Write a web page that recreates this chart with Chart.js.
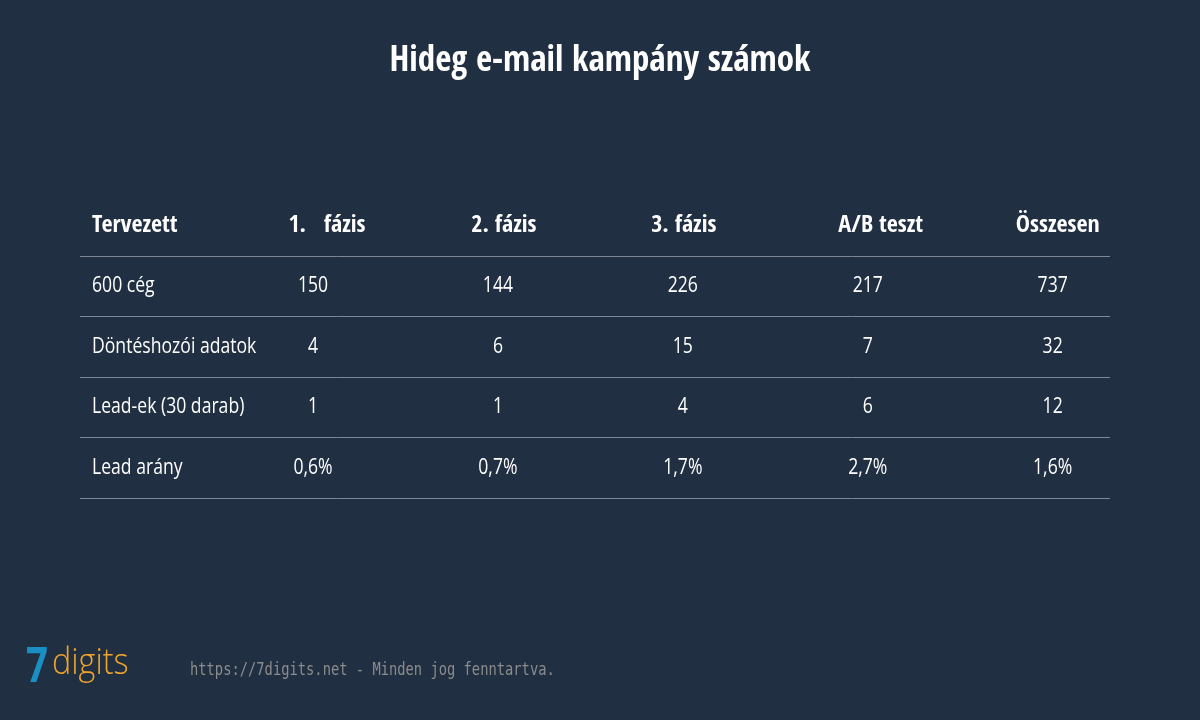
<!DOCTYPE html>
<html><head><meta charset="utf-8">
<script src="https://cdn.jsdelivr.net/npm/chart.js@4"></script>
<style>
html,body{margin:0;padding:0;background:#212f42;width:1200px;height:720px;overflow:hidden}
#wrap{position:absolute;left:0;top:0;width:1200px;height:720px}
</style></head><body>
<div id="wrap"><canvas id="c" width="1200" height="720"></canvas></div>
<script>
const title = "Hideg e-mail kampány számok";
const headers = ["Tervezett","1.   fázis","2. fázis","3. fázis","A/B teszt","Összesen"];
const rowLabels = ["600 cég","Döntéshozói adatok","Lead-ek (30 darab)","Lead arány"];
const phase1 = ["150","4","1","0,6%"];
const phase2 = ["144","6","1","0,7%"];
const phase3 = ["226","15","4","1,7%"];
const abTest = ["217","7","6","2,7%"];
const total  = ["737","32","12","1,6%"];
const footer = "https://7digits.net - Minden jog fenntartva.";

const cols = [phase1, phase2, phase3, abTest, total];
const FONT = '"Liberation Sans Narrow","Open Sans Condensed","DejaVu Sans Condensed",sans-serif';
const pts = [];
headers.forEach((h,i)=>pts.push({x:i,y:0,t:h,head:true}));
rowLabels.forEach((r,j)=>{
  pts.push({x:0,y:j+1,t:r});
  cols.forEach((c,i)=>pts.push({x:i+1,y:j+1,t:c[j]}));
});
const hdrOffsets=[0,14,6,1,13,5];
function txt(c,s,x,y,align,sx){c.save();c.translate(x,y);c.scale(sx,1);c.textAlign=align;c.fillText(s,0,0);c.restore();}
const plugin={id:'tbl',
  beforeDraw(ch){const c=ch.ctx;c.save();c.fillStyle='#212f42';c.fillRect(0,0,ch.width,ch.height);c.restore();},
  afterDatasetsDraw(ch){
    const c=ch.ctx,a=ch.chartArea,ys=ch.scales.y;
    c.save();
    c.fillStyle='#fff';c.font='bold 35px '+FONT;c.textBaseline='middle';
    txt(c,title,600,62,'center',1);
    c.strokeStyle='#7d8796';c.lineWidth=1;
    for(let j=0;j<=rowLabels.length;j++){const y=Math.round(ys.getPixelForValue(j+0.5))+0.5;c.beginPath();c.moveTo(a.left,y);c.lineTo(a.right,y);c.stroke();}
    const meta=ch.getDatasetMeta(0);
    meta.data.forEach((el,k)=>{const p=pts[k];
      if(p.head){c.font='bold 24px '+FONT;}
      else{c.font='22px "Open Sans",sans-serif';}
      const sx=p.head?1:0.8;
      if(p.x===0) txt(c,p.t,a.left+12,el.y,'left',sx);
      else txt(c,p.t,el.x+(p.head?hdrOffsets[p.x]:0),el.y,'center',sx);
    });
    c.textAlign='left';
    c.font='bold 48px "Open Sans",sans-serif';c.fillStyle='#1a8fc4';txt(c,'7',26,668,'left',0.8);
    c.font='300 36px "Open Sans",sans-serif';c.fillStyle='#f0a52a';txt(c,'digits',52,664,'left',0.9);
    c.font='17px "DejaVu Sans Mono",monospace';c.fillStyle='#8c8c8c';
    txt(c,footer,190,671,'left',0.81);
    c.restore();
  }};
new Chart(document.getElementById('c'),{type:'scatter',
  data:{datasets:[{data:pts.map(p=>({x:p.x,y:p.y})),pointRadius:0,pointHoverRadius:0}]},
  options:{responsive:false,animation:false,events:[],
    layout:{padding:{left:80,right:90,top:195,bottom:221}},
    plugins:{legend:{display:false},tooltip:{enabled:false}},
    scales:{x:{type:'linear',min:-0.26,max:5.31,display:false},
            y:{type:'linear',min:-0.5,max:4.52,reverse:true,display:false}}},
  plugins:[plugin]});
</script></body></html>
